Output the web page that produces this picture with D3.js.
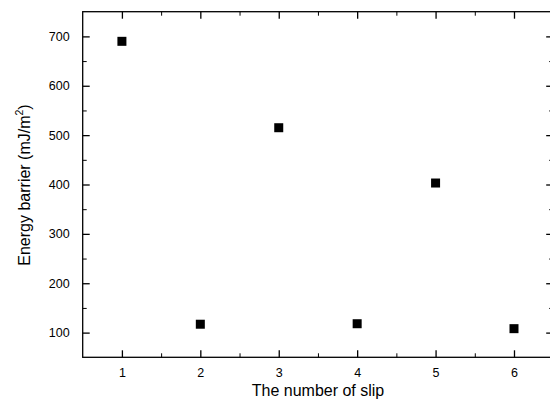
<!DOCTYPE html>
<html><head><meta charset="utf-8">
<script src="https://cdn.jsdelivr.net/npm/d3@7"></script>
<style>body{margin:0;background:#fff}svg{display:block}text{font-family:"Liberation Sans",Arial,sans-serif;fill:#000}</style>
</head><body><svg id="c" width="550" height="408"></svg>
<script>
const slips = [1, 2, 3, 4, 5, 6];
const barrier = [690, 117, 515, 118, 403, 108];
const xTicks = [1, 2, 3, 4, 5, 6];
const xMinor = [1.5, 2.5, 3.5, 4.5, 5.5];
const yTicks = [100, 200, 300, 400, 500, 600, 700];
const yMinor = [150, 250, 350, 450, 550, 650];
const xTitle = "The number of slip";

const svg = d3.select("#c");
const L = 82.7, R = 553.2, T = 11.7, B = 357.3;
const x = d3.scaleLinear().domain([0.5, 6.5]).range([L, R]);
const y = d3.scaleLinear().domain([50, 750]).range([B, T]);

const g = svg.append("g");
g.append("rect").attr("x", L).attr("y", T).attr("width", R - L).attr("height", B - T)
  .attr("fill", "none").attr("stroke", "#000").attr("stroke-width", 1.3);

function axis(gen, tr, major, minor, showLabels, pad) {
  const a = g.append("g").attr("transform", tr);
  a.call(gen.tickValues(major).tickSizeInner(-7).tickSizeOuter(0).tickPadding(showLabels ? pad : 0)
    .tickFormat(showLabels ? d3.format("d") : ""));
  a.select(".domain").remove();
  a.selectAll("line").attr("stroke-width", 1.3);
  a.selectAll("text").attr("font-size", 12.5).attr("fill", "#000");
  const m = g.append("g").attr("transform", tr);
  m.call(gen.tickValues(minor).tickSizeInner(-4).tickSizeOuter(0).tickFormat(""));
  m.select(".domain").remove();
  m.selectAll("line").attr("stroke-width", 1);
}
axis(d3.axisBottom(x), `translate(0,${B})`, xTicks, xMinor, true, 11);
axis(d3.axisTop(x), `translate(0,${T})`, xTicks, xMinor, false, 0);
axis(d3.axisLeft(y), `translate(${L},0)`, yTicks, yMinor, true, 13);
axis(d3.axisRight(y), `translate(${R},0)`, yTicks, yMinor, false, 0);

g.selectAll("rect.pt").data(slips).join("rect").attr("class", "pt")
  .attr("x", (d) => x(d) - 4.5).attr("y", (d, i) => y(barrier[i]) - 4.5)
  .attr("width", 9).attr("height", 9).attr("fill", "#000");

svg.append("text").attr("x", 318).attr("y", 396).attr("text-anchor", "middle")
  .attr("font-size", 16).text(xTitle);
const yl = svg.append("text").attr("transform", `translate(30,185) rotate(-90)`)
  .attr("text-anchor", "middle").attr("font-size", 16);
yl.append("tspan").text("Energy barrier (mJ/m");
yl.append("tspan").attr("font-size", 10.5).attr("dy", -7).text("2");
yl.append("tspan").attr("dy", 7).text(")");
</script></body></html>
